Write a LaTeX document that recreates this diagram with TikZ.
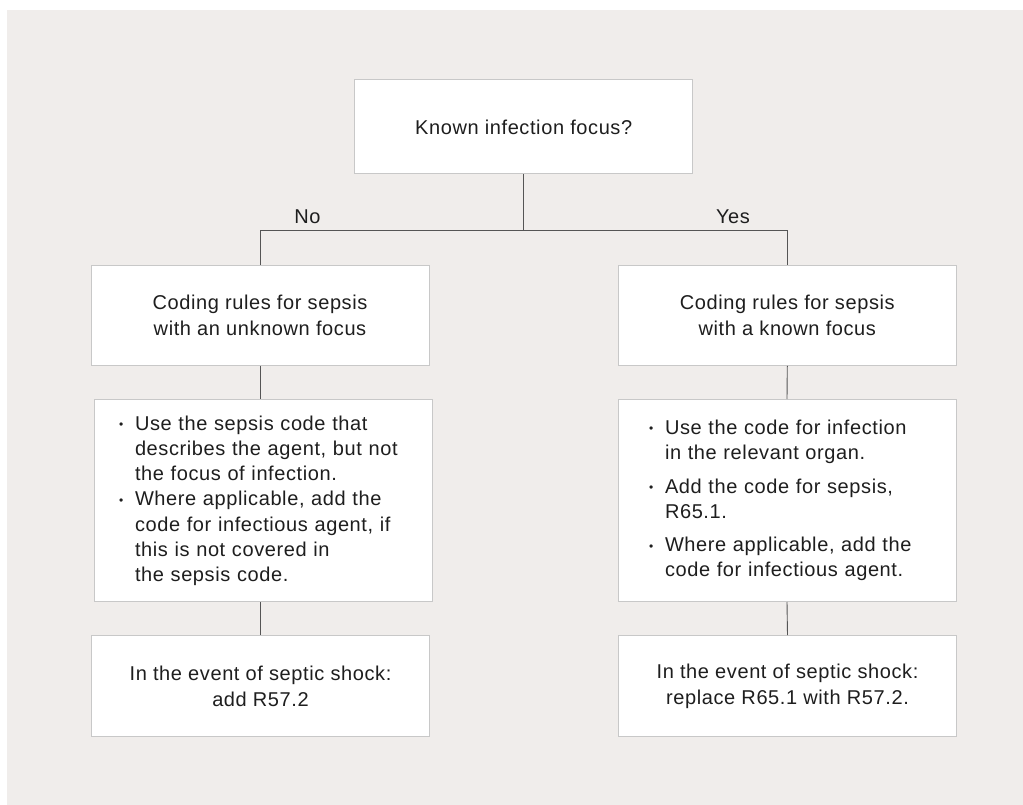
\documentclass[tikz,border=0pt]{standalone}
\usepackage{fontspec}
\setmainfont{Liberation Sans}[LetterSpace=3]
\usepackage{xcolor}
\usepackage{tikz}

\definecolor{bgcol}{RGB}{240,237,235}
\definecolor{boxline}{RGB}{200,200,200}
\definecolor{connline}{RGB}{85,85,85}
\definecolor{textcol}{RGB}{30,30,30}

\newcommand{\bitem}{\makebox[16pt][l]{\raisebox{1.5pt}{\fontsize{12}{12}\selectfont\textbullet}}}
\newcommand{\bcont}{\hspace*{16pt}}

\begin{document}
\begin{tikzpicture}[x=1pt,y=-1pt,
    box/.style={draw=boxline, line width=1pt, fill=white, inner sep=0pt,
      minimum width=338pt, minimum height=100pt, align=center, text=textcol,
      font=\fontsize{20}{25.3}\selectfont},
    listbox/.style={box, align=left, minimum height=202pt},
    conn/.style={draw=connline, line width=0.9pt},
    answer/.style={font=\fontsize{20}{25.3}\selectfont, text=textcol, inner sep=0pt}]

        % Drawing the background
        \useasboundingbox (0,0) rectangle (1023,805);
        \fill[bgcol] (7,10) rectangle (1023,805);

        % Drawing the question
        \node[box, minimum height=94pt] (focus) at (523.7,127) {Known infection focus?};
        \coordinate (split) at (523.7,230.7);
        \node[answer] (no) at (307.5,216.7) {No};
        \node[answer] (yes) at (733,216.7) {Yes};

        % Drawing the unknown focus branch
        \node[box] (codeL) at (260,315.4) {Coding rules for sepsis\\with an unknown focus};
        \node[listbox, text width=289pt, inner xsep=20pt] (listL) at (263.5,500.8) {%
          \bitem Use the sepsis code that\\
          \bcont describes the agent, but not\\
          \bcont the focus of infection.\\
          \bitem Where applicable, add the\\
          \bcont code for infectious agent, if\\
          \bcont this is not covered in\\
          \bcont the sepsis code.};
        \node[box, minimum height=101pt] (shockL) at (260.5,686.2) {In the event of septic shock:\\add R57.2};

        % Drawing the known focus branch
        \node[box] (codeR) at (787.3,315.4) {Coding rules for sepsis\\with a known focus};
        \node[listbox, text width=276pt, inner xsep=31pt] (listR) at (787,500.5) {%
          \bitem Use the code for infection\\
          \bcont in the relevant organ.\\[8pt]
          \bitem Add the code for sepsis,\\
          \bcont R65.1.\\[8pt]
          \bitem Where applicable, add the\\
          \bcont code for infectious agent.};
        \node[box, minimum height=101pt] (shockR) at (787.5,686.2) {In the event of septic shock:\\replace R65.1 with R57.2.};

        % Drawing the connectors
        \draw[conn] (focus.south) -- (split);
        \draw[conn] (codeL.north) |- (split) -| (codeR.north);
        \draw[conn] (codeL.south) -- (codeL.south |- listL.north);
        \draw[conn] (codeL.south |- listL.south) -- (shockL.north -| codeL.south);
        \draw[conn] (codeR.south) -- (listR.north);
        \draw[conn] (listR.south) -- (shockR.north);
    \end{tikzpicture}
\end{document}
